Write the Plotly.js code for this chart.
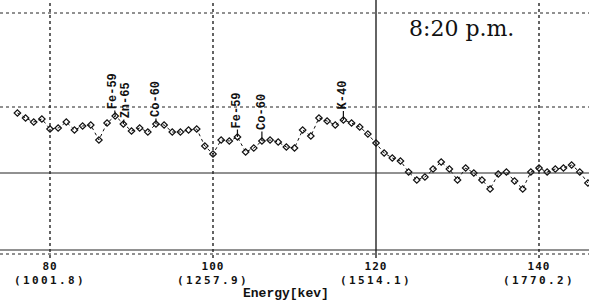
<!DOCTYPE html>
<html>
<head>
<meta charset="utf-8">
<script src="https://cdn.plot.ly/plotly-3.0.1.min.js"></script>
<style>
html,body{margin:0;padding:0;background:#fff;}
#chart{width:589px;height:302px;}
.xtick text{letter-spacing:1px;}
.x2tick text{letter-spacing:2.4px;}
</style>
</head>
<body>
<div id="chart"></div>
<script>
// channel numbers (x) and relative counts (y)
const channels = [76,77,78,79,80,81,82,83,84,85,86,87,88,89,90,91,92,93,94,95,96,97,98,99,100,101,102,103,104,105,106,107,108,109,110,111,112,113,114,115,116,117,118,119,120,121,122,123,124,125,126,127,128,129,130,131,132,133,134,135,136,137,138,139,140,141,142,143,144,145,146];
const counts = [145,140,136,139,129,130,136,128,132,133,118,135,142,134,127,130,126,134,133,126,126,128,129,112,104,118,117,121,106,110,117,118,116,111,110,128,122,140,137,133,138,135,131,124,115,105,100,97,86,78,81,89,96,89,78,90,85,78,69,84,86,77,69,86,90,86,89,90,93,86,75];

// axis ticks
const tickChannels = [80,100,120,140];
const tickEnergies = ["1001.8","1257.9","1514.1","1770.2"];

// peak identifications
const peakNames = ["Fe-59","Zn-65","Co-60","Fe-59","Co-60","K-40"];
const peakChannels = [88,89,93,103,106,116];
const peakShiftX = [-2,3,0,0,0,0];
const peakOffsets = [-25,-24,-25,-27,-29,-25];

// reference lines
const vLineChannels = [80,100,120,140];
const vLineDash = ["dot","dot","solid","dot"];
const hLineLevels = [245,151,85,8,4];
const hLineDash = ["dot","dot","solid","solid","dot"];

const trace = {
  x: channels, y: counts, type: 'scatter', mode: 'lines+markers',
  line: {color: '#111', width: 1, dash: 'dot'},
  marker: {symbol: 'diamond-open', size: 5, color: '#111', line: {width: 1.2, color: '#111'}},
  hoverinfo: 'skip'
};
// invisible trace to carry the energy tick row
const energyTrace = {x: [tickChannels[0]], y: [0], xaxis: 'x2', yaxis: 'y', mode: 'markers',
  marker: {opacity: 0}, hoverinfo: 'skip'};

const shapes = [];
vLineChannels.forEach((c, i) => shapes.push({
  type: 'line', xref: 'x', yref: 'paper', x0: c, x1: c, y0: 0, y1: 1,
  line: {color: '#111', width: 1.3, dash: vLineDash[i]}
}));
hLineLevels.forEach((v, i) => shapes.push({
  type: 'line', xref: 'paper', yref: 'y', x0: 0, x1: 1, y0: v, y1: v,
  line: {color: '#222', width: 1, dash: hLineDash[i]}
}));

const annotations = peakNames.map((n, i) => ({
  x: peakChannels[i], y: counts[channels.indexOf(peakChannels[i])],
  xref: 'x', yref: 'y', text: '<b>' + n + '</b>', textangle: -90,
  showarrow: true, arrowhead: 0, arrowwidth: 1.2, arrowcolor: '#111',
  ax: peakShiftX[i], ay: peakOffsets[i], standoff: 0,
  font: {family: 'Liberation Mono', size: 12, color: '#111'}
}));
annotations.push({
  xref: 'paper', yref: 'paper', x: 0.784, y: 0.89, xanchor: 'center', yanchor: 'middle', showarrow: false,
  text: '8:20 p.m.', font: {family: 'DejaVu Serif', size: 22, color: '#111'}
});
annotations.push({
  xref: 'x', yref: 'paper', x: 109.0, y: -0.136, xanchor: 'center', yanchor: 'middle', showarrow: false,
  text: '<b>Energy[kev]</b>', font: {family: 'Liberation Mono', size: 13, color: '#111'}
});

const tickFont = {family: 'DejaVu Sans Mono', size: 11, color: '#111', weight: 'bold'};
const layout = {
  width: 589, height: 302,
  margin: {l: 0, r: 0, t: 0, b: 44},
  paper_bgcolor: '#fff', plot_bgcolor: '#fff',
  showlegend: false,
  xaxis: {
    range: [73.865, 146.135], showgrid: false, zeroline: false, showline: false,
    ticks: '', tickvals: tickChannels, ticktext: tickChannels.map(String),
    tickfont: tickFont, ticklabelstandoff: 0
  },
  xaxis2: {
    overlaying: 'x', matches: 'x', side: 'bottom', anchor: 'y',
    range: [73.865, 146.135], showgrid: false, zeroline: false, showline: false,
    ticks: '', tickvals: tickChannels, ticktext: tickEnergies.map(e => '(' + e + ')'),
    tickfont: tickFont, ticklabelstandoff: 14
  },
  yaxis: {range: [0, 258], showgrid: false, zeroline: false, showline: false, showticklabels: false, ticks: ''},
  shapes: shapes, annotations: annotations
};

Plotly.newPlot('chart', [trace, energyTrace], layout, {staticPlot: true, displayModeBar: false});
</script>
</body>
</html>
